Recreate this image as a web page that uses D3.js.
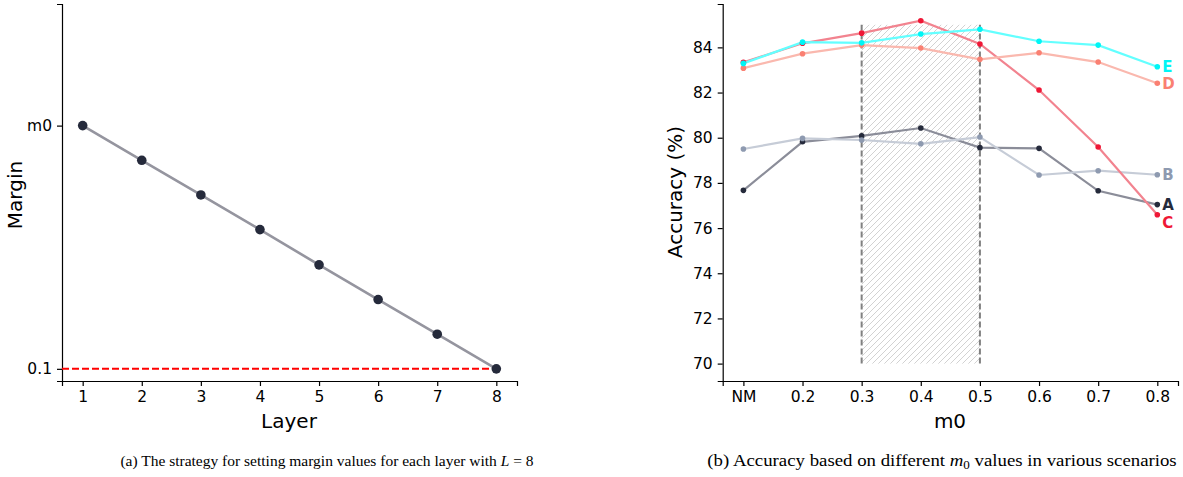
<!DOCTYPE html>
<html>
<head>
<meta charset="utf-8">
<script src="https://cdn.jsdelivr.net/npm/d3@7"></script>
<style>
  body { margin: 0; background: #fff; }
  svg text { font-family: "DejaVu Sans", sans-serif; fill: #000; }
  .cap { font-family: "Liberation Serif", "Times New Roman", serif; font-size: 15.5px; }
</style>
</head>
<body>
<div id="chart"></div>
<script>
// left panel data
const layers = [1, 2, 3, 4, 5, 6, 7, 8];
const margins = [0.5, 0.443, 0.386, 0.329, 0.271, 0.214, 0.157, 0.1];
const marginTicks = [0.1, 0.5];
const marginTickLabels = ["0.1", "m0"];

// right panel data
const m0Labels = ["NM", "0.2", "0.3", "0.4", "0.5", "0.6", "0.7", "0.8"];
const accA = [77.67, 79.82, 80.08, 80.43, 79.56, 79.53, 77.65, 77.04];
const accB = [79.50, 79.97, 79.90, 79.73, 80.03, 78.35, 78.54, 78.36];
const accC = [83.34, 84.18, 84.63, 85.18, 84.15, 82.11, 79.59, 76.59];
const accD = [83.08, 83.72, 84.10, 83.97, 83.47, 83.76, 83.35, 82.41];
const accE = [83.29, 84.23, 84.20, 84.59, 84.80, 84.27, 84.10, 83.14];
const seriesNames = ["A", "B", "C", "D", "E"];
const accTicks = [70, 72, 74, 76, 78, 80, 82, 84];

const svg = d3.select("#chart").append("svg")
    .attr("width", 1183)
    .attr("height", 477);

// ---------- panel (a) ----------
const xa = d3.scaleLinear().domain([0.65, 8.35]).range([62, 517]);
const ya = d3.scaleLinear().domain([0.08, 0.7]).range([381, 4]);

const gA = svg.append("g");

gA.append("g")
    .attr("transform", "translate(0,381)")
    .call(d3.axisBottom(xa).tickValues(layers).tickFormat(d3.format("d")).tickSizeOuter(0).tickSize(5).tickPadding(5))
    .call(g => g.selectAll("text").style("font-size", "15.5px"));

gA.append("g")
    .attr("transform", "translate(62,0)")
    .call(d3.axisLeft(ya).tickValues(marginTicks).tickFormat((d, i) => marginTickLabels[i]).tickSizeOuter(0).tickSize(5).tickPadding(5))
    .call(g => g.selectAll("text").style("font-size", "15.5px"));

gA.selectAll(".domain, .tick line").attr("stroke", "#000").attr("stroke-width", 1.2);

// red dashed floor
gA.append("line")
    .attr("x1", xa(0.65)).attr("x2", xa(8))
    .attr("y1", ya(0.1)).attr("y2", ya(0.1))
    .attr("stroke", "#ff0000")
    .attr("stroke-width", 2)
    .attr("stroke-dasharray", "7,3");

gA.append("path")
    .datum(layers.map((l, i) => [l, margins[i]]))
    .attr("fill", "none")
    .attr("stroke", "#95959f")
    .attr("stroke-width", 2.6)
    .attr("d", d3.line().x(d => xa(d[0])).y(d => ya(d[1])));

gA.selectAll("circle.pt")
    .data(layers.map((l, i) => [l, margins[i]]))
    .enter().append("circle")
    .attr("cx", d => xa(d[0]))
    .attr("cy", d => ya(d[1]))
    .attr("r", 4.8)
    .attr("fill", "#252a3b");

gA.append("text")
    .attr("x", 289).attr("y", 428)
    .attr("text-anchor", "middle")
    .style("font-size", "20px")
    .text("Layer");

gA.append("text")
    .attr("transform", "translate(22,195) rotate(-90)")
    .attr("text-anchor", "middle")
    .style("font-size", "20px")
    .text("Margin");

// ---------- panel (b) ----------
const xb = d3.scaleLinear().domain([-0.35, 7.35]).range([722.7, 1178]);
const yb = d3.scaleLinear().domain([69.23, 85.92]).range([381, 4]);

const gB = svg.append("g");

// hatch pattern
const defs = svg.append("defs");
const pat = defs.append("pattern")
    .attr("id", "hatch")
    .attr("patternUnits", "userSpaceOnUse")
    .attr("width", 6).attr("height", 6);
pat.append("path")
    .attr("d", "M-1.5,1.5 l3,-3 M0,6 l6,-6 M4.5,7.5 l3,-3")
    .attr("stroke", "#d2d2d2")
    .attr("stroke-width", 1);

gB.append("rect")
    .attr("x", xb(2)).attr("width", xb(4) - xb(2))
    .attr("y", yb(85)).attr("height", yb(70) - yb(85))
    .attr("fill", "url(#hatch)");

[2, 4].forEach(i => {
  gB.append("line")
      .attr("x1", xb(i)).attr("x2", xb(i))
      .attr("y1", yb(70)).attr("y2", yb(85))
      .attr("stroke", "#808080")
      .attr("stroke-width", 2)
      .attr("stroke-dasharray", "6,3");
});

gB.append("g")
    .attr("transform", "translate(0,381)")
    .call(d3.axisBottom(xb).tickValues(d3.range(m0Labels.length)).tickFormat(i => m0Labels[i]).tickSizeOuter(0).tickSize(5).tickPadding(5))
    .call(g => g.selectAll("text").style("font-size", "15.5px"));

gB.append("g")
    .attr("transform", "translate(722.7,0)")
    .call(d3.axisLeft(yb).tickValues(accTicks).tickSizeOuter(0).tickSize(5).tickPadding(5))
    .call(g => g.selectAll("text").style("font-size", "15.5px"));

gB.selectAll(".domain, .tick line").attr("stroke", "#000").attr("stroke-width", 1.2);

const series = [
  { name: "A", vals: accA, line: "#8b8d99", dot: "#252a3b", dy: 5 },
  { name: "B", vals: accB, line: "#c6ccd7", dot: "#8e9ab0", dy: 5 },
  { name: "C", vals: accC, line: "#f2838f", dot: "#ef1736", dy: 13 },
  { name: "D", vals: accD, line: "#fab8ae", dot: "#fa8072", dy: 6 },
  { name: "E", vals: accE, line: "#63ffff", dot: "#00f5f5", dy: 5 }
];

const lineB = d3.line().x((d, i) => xb(i)).y(d => yb(d));

series.forEach(s => {
  gB.append("path")
      .datum(s.vals)
      .attr("fill", "none")
      .attr("stroke", s.line)
      .attr("stroke-width", 2.2)
      .attr("d", lineB);
});

series.forEach(s => {
  gB.selectAll(null)
      .data(s.vals)
      .enter().append("circle")
      .attr("cx", (d, i) => xb(i))
      .attr("cy", d => yb(d))
      .attr("r", 2.8)
      .attr("fill", s.dot);
  const last = s.vals[s.vals.length - 1];
  gB.append("text")
      .attr("x", xb(s.vals.length - 1) + 5)
      .attr("y", yb(last) + s.dy)
      .style("font-size", "15px")
      .style("font-weight", "bold")
      .style("fill", s.dot)
      .text(s.name);
});

gB.append("text")
    .attr("x", 950).attr("y", 428)
    .attr("text-anchor", "middle")
    .style("font-size", "20px")
    .text("m0");

gB.append("text")
    .attr("transform", "translate(682,192) rotate(-90)")
    .attr("text-anchor", "middle")
    .style("font-size", "20px")
    .text("Accuracy (%)");

// ---------- captions ----------
const capA = svg.append("text").attr("class", "cap").attr("x", 327).attr("y", 466).attr("text-anchor", "middle");
capA.append("tspan").text("(a) The strategy for setting margin values for each layer with ");
capA.append("tspan").style("font-style", "italic").text("L");
capA.append("tspan").text(" = 8");

// caption b is set wider in the source, stretch it a bit
const capB = svg.append("text").attr("class", "cap")
    .attr("transform", "translate(942,466) scale(1.14,1)")
    .attr("text-anchor", "middle")
    .style("font-size", "16.5px");
capB.append("tspan").text("(b) Accuracy based on different ");
capB.append("tspan").style("font-style", "italic").text("m");
capB.append("tspan").attr("dy", 3).style("font-size", "11.5px").text("0");
capB.append("tspan").attr("dy", -3).text(" values in various scenarios");
</script>
</body>
</html>
